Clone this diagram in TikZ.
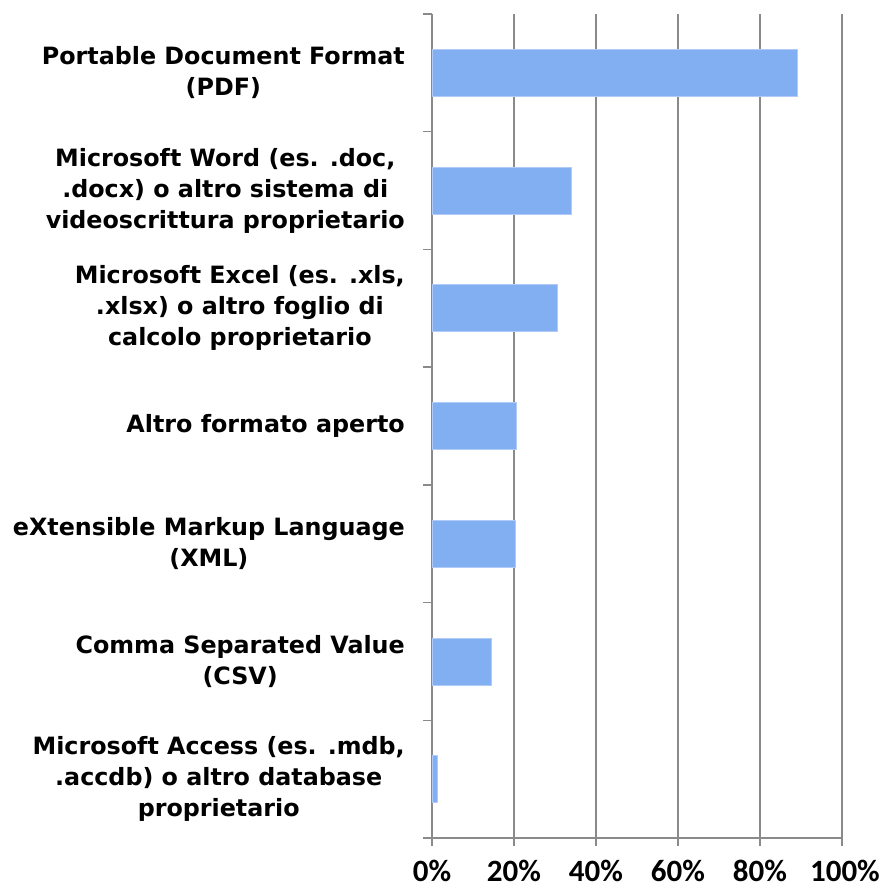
\documentclass[tikz,border=0pt]{standalone}
\usepackage{fontspec}
\setmainfont{DejaVu Sans}
\newfontfamily\tickfont{Carlito}
\begin{document}
\begin{tikzpicture}[x=1pt,y=-1pt,
  grid/.style={draw=gridgray,line width=1.4pt},
  bar/.style={fill=barblue,draw=baredge,line width=0.8pt},
  catlabel/.style={anchor=east,align=center,inner sep=0pt,font=\bfseries\fontsize{23.8}{31}\selectfont},
  ticklabel/.style={anchor=base,inner sep=0pt,font=\tickfont\bfseries\fontsize{31}{34}\selectfont}]
\definecolor{gridgray}{HTML}{8A8A8A}
\definecolor{barblue}{HTML}{82AEF2}
\definecolor{baredge}{HTML}{B0CCF6}
\useasboundingbox (0,0) rectangle (881,888);
% vertical gridlines
\foreach \i in {1,...,5} \draw[grid] ({432+82*\i},14) -- ({432+82*\i},846);
% axis
\draw[grid] (432,14) -- (432,846);
\draw[grid] (423,838) -- (842,838);
\foreach \j in {0,...,7} \draw[grid] (423,{14+117.714*\j}) -- (432,{14+117.714*\j});
% bars
\foreach \v [count=\k from 0] in {89,34,30.7,20.6,20.3,14.4,1.4}
  \draw[bar] (432.7,{14+117.714*(\k+0.5)-23.5}) rectangle ({432+4.1*\v},{14+117.714*(\k+0.5)+23.5});
% labels
\node[catlabel] (l1) at (405,72.9) {Portable Document Format\\(PDF)};
\node[catlabel] (l2) at (405,190.6) {Microsoft Word (es. .doc,\\.docx) o altro sistema di\\videoscrittura proprietario};
\node[catlabel] (l3) at (405,308.3) {Microsoft Excel (es. .xls,\\.xlsx) o altro foglio di\\calcolo proprietario};
\node[catlabel] (l4) at (405,426) {Altro formato aperto};
\node[catlabel] (l5) at (405,543.7) {eXtensible Markup Language\\(XML)};
\node[catlabel] (l6) at (405,661.4) {Comma Separated Value\\(CSV)};
\node[catlabel] (l7) at (405,779.1) {Microsoft Access (es. .mdb,\\.accdb) o altro database\\proprietario};
% tick labels
\foreach \p [count=\i from 0] in {0,20,40,60,80} \node[ticklabel] (t\i) at ({432+82*\i},881) {\p\%};
\node[ticklabel,anchor=base east] (t5) at (880,881) {100\%};
\end{tikzpicture}
\end{document}
